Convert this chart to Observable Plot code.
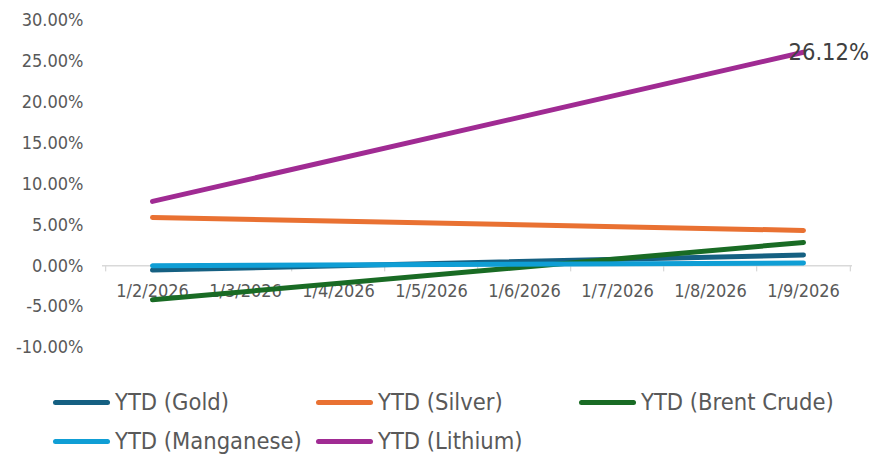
<!DOCTYPE html>
<html>
<head>
<meta charset="utf-8">
<script src="https://cdn.jsdelivr.net/npm/d3@7"></script>
<script src="https://cdn.jsdelivr.net/npm/@observablehq/plot@0.6"></script>
<style>
  html, body { margin: 0; padding: 0; background: #fff; }
  body { width: 876px; height: 457px; overflow: hidden; position: relative;
         font-family: "DejaVu Sans Condensed", "DejaVu Sans", sans-serif; font-stretch: condensed; }
  #chart svg { display: block; }
  #legend { position: absolute; left: 0; top: 370px; width: 876px; height: 87px; }
  .item { position: absolute; display: flex; align-items: center; height: 30px; }
  .sw { width: 57px; height: 5px; border-radius: 3px; margin-right: 5px; }
  .lbl { font-size: 23.5px; color: #595959; white-space: nowrap; }
</style>
</head>
<body>
<div id="chart"></div>
<div id="legend"></div>
<script>
// Categories (date axis)
const dates = ["1/2/2026", "1/3/2026", "1/4/2026", "1/5/2026", "1/6/2026", "1/7/2026", "1/8/2026", "1/9/2026"];
// Observed dates with data
const obsDates = ["1/2/2026", "1/9/2026"];
// Series (YTD %, values at 1/2 and 1/9)
const seriesNames = ["YTD (Gold)", "YTD (Silver)", "YTD (Brent Crude)", "YTD (Manganese)", "YTD (Lithium)"];
const gold = [-0.53, 1.31];
const silver = [5.91, 4.32];
const brent = [-4.16, 2.85];
const manganese = [0.0, 0.33];
const lithium = [7.87, 26.12];
const seriesColors = ["#156082", "#E97132", "#196B24", "#0F9ED5", "#A02B93"];
const yTicks = [-10, -5, 0, 5, 10, 15, 20, 25, 30];

const seriesValues = [gold, silver, brent, manganese, lithium];
const rows = [];
seriesNames.forEach((name, i) => {
  seriesValues[i].forEach((v, j) => rows.push({series: name, date: obsDates[j], value: v}));
});
const lastLith = {date: obsDates[1], value: lithium[1]};

const W = 876, H = 370, ML = 102, MR = 24, MT = 20, MB = 23;
const step = (W - ML - MR) / dates.length;
const txt = "#595959";
const fontFam = '"DejaVu Sans Condensed", "DejaVu Sans", sans-serif';

const chart = Plot.plot({
  width: W, height: H,
  marginLeft: ML, marginRight: MR, marginTop: MT, marginBottom: MB,
  style: {fontFamily: fontFam, fontStretch: "condensed", background: "#fff", overflow: "visible"},
  x: {type: "point", domain: dates, padding: 0.5, axis: null},
  y: {domain: [-10, 30], axis: null},
  color: {domain: seriesNames, range: seriesColors},
  marks: [
    Plot.axisY(yTicks, {tickSize: 0, tickPadding: 19, tickFormat: d => d.toFixed(2) + "%",
      fontSize: 18, fill: txt, anchor: "left", textAnchor: "end", label: null}),
    Plot.ruleY([0], {stroke: "#d9d9d9", strokeWidth: 1.3}),
    Plot.ruleX(dates, {x: d => d, y1: 0, y2: -0.75, dx: -step / 2, stroke: "#d9d9d9", strokeWidth: 1.3}),
    Plot.ruleX([dates[dates.length - 1]], {x: d => d, y1: 0, y2: -0.75, dx: step / 2, stroke: "#d9d9d9", strokeWidth: 1.3}),
    Plot.text(dates, {x: d => d, y: () => 0, dy: 25, text: d => d, fontSize: 18, fill: txt, lineAnchor: "middle"}),
    Plot.line(rows, {x: "date", y: "value", z: "series", stroke: "series", strokeWidth: 5,
      strokeLinecap: "round", strokeLinejoin: "round"}),
    Plot.text([lastLith], {x: "date", y: "value", text: d => d.value.toFixed(2) + "%",
      textAnchor: "start", dx: -15, fontSize: 23.5, fill: "#404040", lineAnchor: "middle"})
  ]
});
document.getElementById("chart").appendChild(chart);

// Legend
const legend = document.getElementById("legend");
const lx = [53, 316, 579];
const ly = [32, 71];
seriesNames.forEach((name, i) => {
  const it = document.createElement("div");
  it.className = "item";
  it.style.left = lx[i % 3] + "px";
  it.style.top = (ly[Math.floor(i / 3)] - 15) + "px";
  const sw = document.createElement("div");
  sw.className = "sw";
  sw.style.background = seriesColors[i];
  const lb = document.createElement("span");
  lb.className = "lbl";
  lb.textContent = name;
  it.appendChild(sw); it.appendChild(lb);
  legend.appendChild(it);
});
</script>
</body>
</html>
